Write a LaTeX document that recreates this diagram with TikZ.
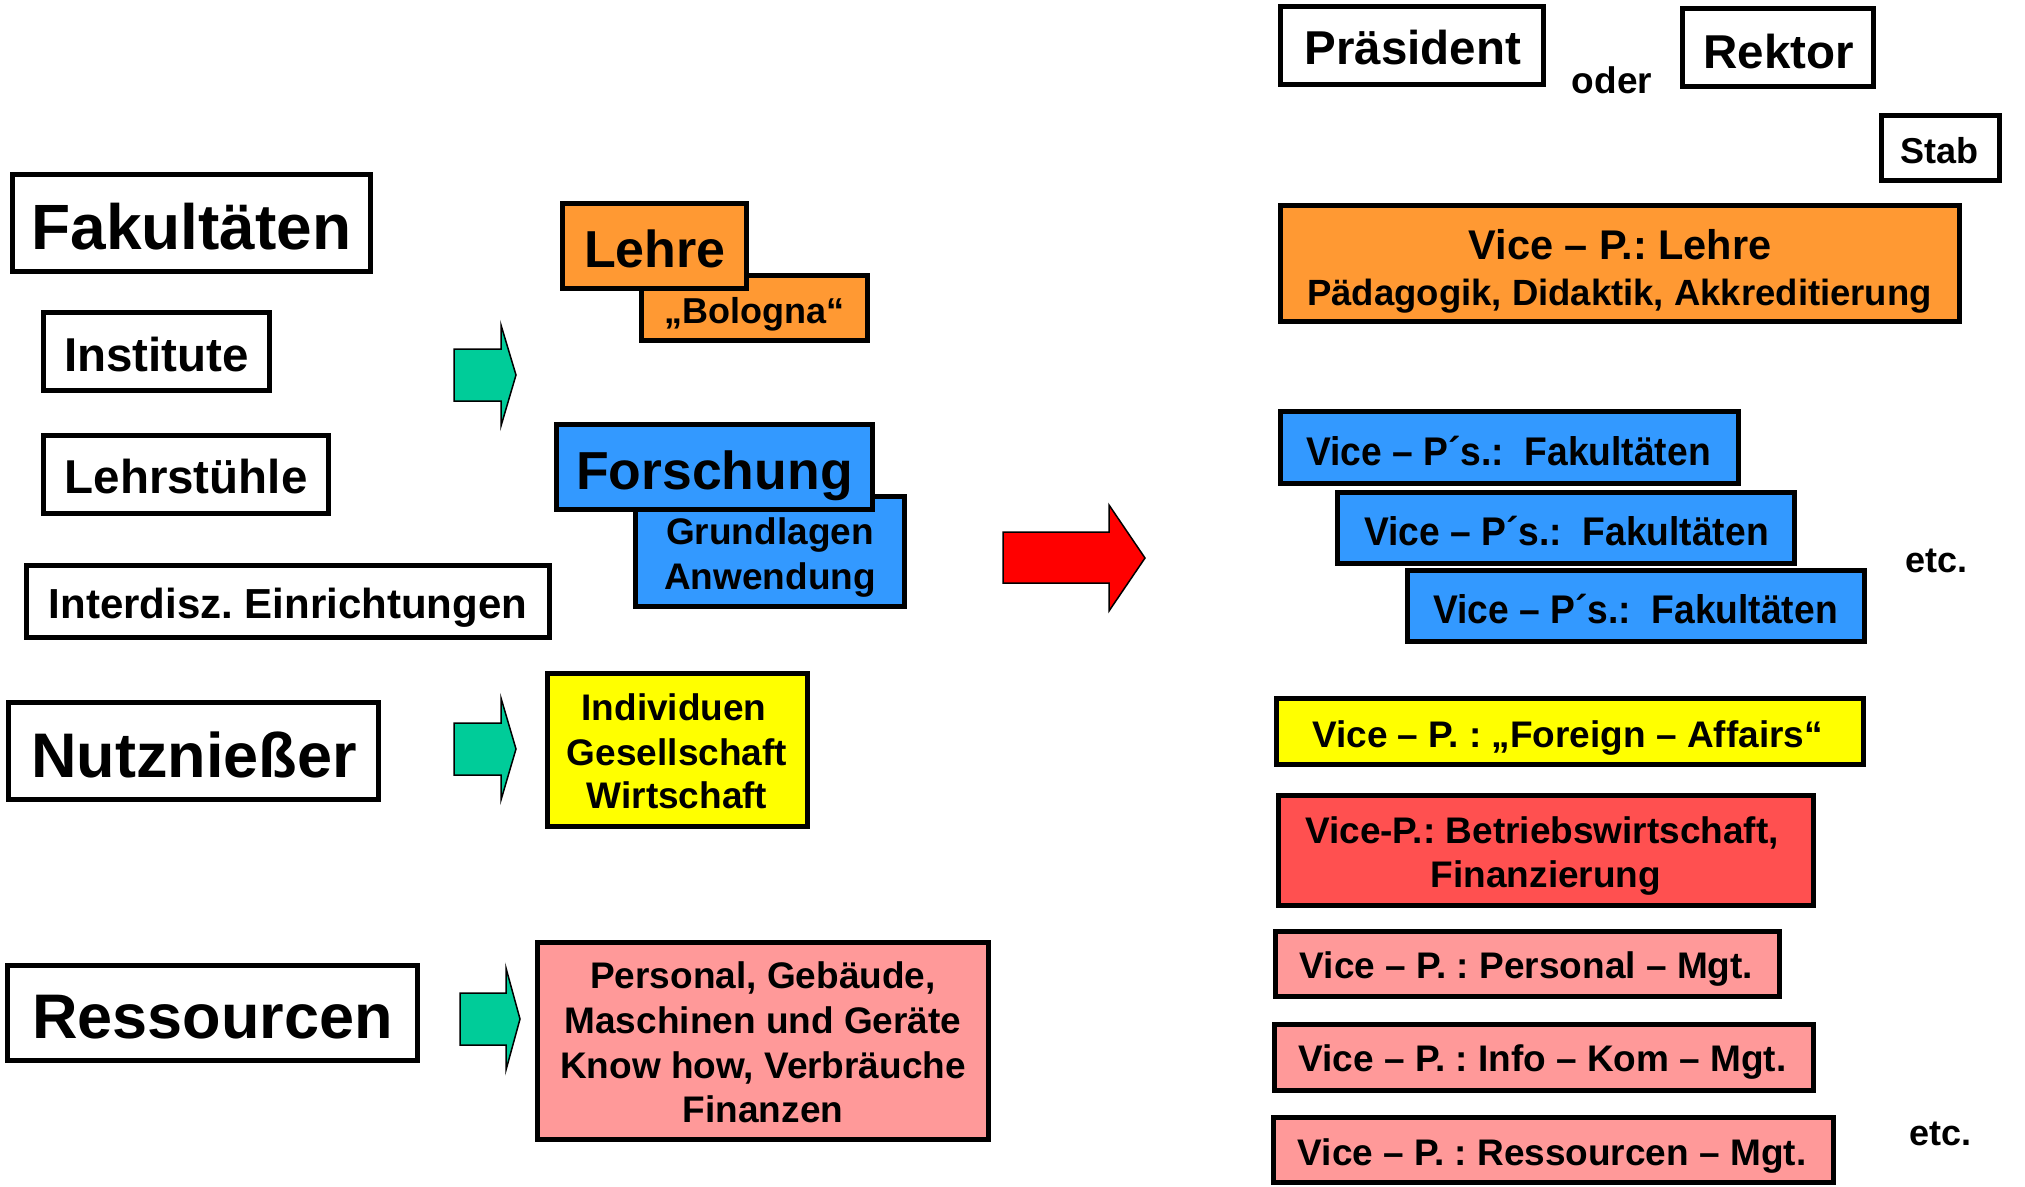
\documentclass[tikz,border=0pt]{standalone}
\usepackage{fontspec}
\setmainfont{Liberation Sans}
\usepackage{graphicx}
\frenchspacing
\newcommand\fsz[1]{\fontsize{#1}{#1}\selectfont}
\definecolor{cOrange}{HTML}{FF9933}
\definecolor{cBlue}{HTML}{3399FF}
\definecolor{cYellow}{HTML}{FFFF00}
\definecolor{cRedbox}{HTML}{FF5050}
\definecolor{cPink}{HTML}{FF9999}
\definecolor{cGreen}{HTML}{00CC99}
\definecolor{cRed}{HTML}{FF0000}
\tikzset{
  box/.style={draw=black, line width=5pt, inner sep=0pt, outer sep=0pt},
  lbl/.style={anchor=base, inner sep=0pt, outer sep=0pt, font=\bfseries},
  blockarrow/.style={draw=black, line width=1.5pt, line join=miter},
}
\begin{document}
\begin{tikzpicture}[x=1pt,y=-1pt]
\useasboundingbox (0,0) rectangle (2025,1186);

% ---------- left column ----------
\node[box, fill=white, minimum width=358, minimum height=97] (fak) at (191.5,223) {};
\node[lbl, font=\bfseries\fsz{64}] (tfak) at (191.5,249) {Fakultäten};
\node[box, fill=white, minimum width=226, minimum height=78] (inst) at (156.5,351.5) {};
\node[lbl, font=\bfseries\fsz{47.5}] (tinst) at (156.5,371) {Institute};
\node[box, fill=white, minimum width=285, minimum height=78] (lehrst) at (186,474.5) {};
\node[lbl, font=\bfseries\fsz{47.5}] (tlehrst) at (186,493) {Lehrstühle};
\node[box, fill=white, minimum width=523, minimum height=72] (interd) at (288,601.5) {};
\node[lbl, font=\bfseries\fsz{42}] (tinterd) at (288,618) {Interdisz. Einrichtungen};
\node[box, fill=white, minimum width=370, minimum height=97] (nutz) at (193.5,751) {};
\node[lbl, font=\bfseries\fsz{63}] (tnutz) at (194,777) {Nutznießer};
\node[box, fill=white, minimum width=410, minimum height=95] (ress) at (212.5,1013) {};
\node[lbl, font=\bfseries\fsz{63}] (tress) at (212.5,1038) {Ressourcen};

% ---------- green arrows ----------
\draw[blockarrow, fill=cGreen] (454,349) -- (501,349) -- (501,325) -- (516,375) -- (501,426) -- (501,401) -- (454,401) -- cycle;
\draw[blockarrow, fill=cGreen] (454,723) -- (501,723) -- (501,698) -- (516,749) -- (501,800) -- (501,775) -- (454,775) -- cycle;
\draw[blockarrow, fill=cGreen] (460,993) -- (506,993) -- (506,968) -- (520,1019) -- (506,1070) -- (506,1045) -- (460,1045) -- cycle;

% ---------- middle column ----------
\node[box, fill=cOrange, minimum width=226, minimum height=65] (bologna) at (754.5,308) {};
\node[lbl, font=\bfseries\fsz{36}] (tbologna) at (754.5,323) {„Bologna“};
\node[box, fill=cOrange, minimum width=184, minimum height=85] (lehre) at (654.5,246) {};
\node[lbl, font=\bfseries\fsz{52}] (tlehre) at (655,267) {Lehre};

\node[box, fill=cBlue, minimum width=269, minimum height=110] (grund) at (770,551.5) {};
\node[lbl, font=\bfseries\fsz{37}] (tgrund1) at (770,544) {Grundlagen};
\node[lbl, font=\bfseries\fsz{37}] (tgrund2) at (770,589) {Anwendung};
\node[box, fill=cBlue, minimum width=316, minimum height=85] (forsch) at (714.5,467) {};
\node[lbl, font=\bfseries\fsz{53.5}] (tforsch) at (714.5,489) {Forschung};

\node[box, fill=cYellow, minimum width=260, minimum height=153] (indiv) at (677.5,750) {};
\node[lbl, font=\bfseries\fsz{37}] (tindiv1) at (674,720) {Individuen};
\node[lbl, font=\bfseries\fsz{37}] (tindiv2) at (677,765) {Gesellschaft};
\node[lbl, font=\bfseries\fsz{37}] (tindiv3) at (677,808) {Wirtschaft};

\node[box, fill=cPink, minimum width=451, minimum height=197] (resbox) at (763,1041) {};
\node[lbl, font=\bfseries\fsz{37}] (tres1) at (763,988) {Personal, Gebäude,};
\node[lbl, font=\bfseries\fsz{37}] (tres2) at (763,1033) {Maschinen und Geräte};
\node[lbl, font=\bfseries\fsz{37}] (tres3) at (763,1078) {Know how, Verbräuche};
\node[lbl, font=\bfseries\fsz{37}] (tres4) at (763,1122) {Finanzen};

% ---------- red arrow ----------
\draw[blockarrow, fill=cRed] (1003,532) -- (1109,532) -- (1109,505) -- (1145,558) -- (1109,611) -- (1109,583) -- (1003,583) -- cycle;

% ---------- right column ----------
\node[box, fill=white, minimum width=263, minimum height=78] (praes) at (1412,45.5) {};
\node[lbl, font=\bfseries\fsz{47.5}] (tpraes) at (1413,64) {Präsident};
\node[lbl, font=\bfseries\fsz{37}] (oder) at (1612,93) {oder};
\node[box, fill=white, minimum width=191, minimum height=78] (rektor) at (1778,47.5) {};
\node[lbl, font=\bfseries\fsz{47.5}] (trektor) at (1778.5,68) {Rektor};
\node[box, fill=white, minimum width=118, minimum height=65] (stab) at (1940.5,148) {};
\node[lbl, font=\bfseries\fsz{36}] (tstab) at (1939.5,163) {Stab};

\node[box, fill=cOrange, minimum width=679, minimum height=116] (vpl) at (1620,263.5) {};
\node[lbl, font=\bfseries\fsz{41.5}] (tvpl1) at (1620,259) {Vice – P.: Lehre};
\node[lbl, font=\bfseries\fsz{36.5}] (tvpl2) at (1619.5,305) {Pädagogik, Didaktik, Akkreditierung};

\node[box, fill=cBlue, minimum width=458, minimum height=72] (vpf1) at (1509.5,447.5) {};
\node[lbl, font=\bfseries\fsz{40}] (tvpf1) at (1508.5,465) {\scalebox{0.93}[1]{Vice – P´s.:\ \ Fakultäten}};
\node[box, fill=cBlue, minimum width=457, minimum height=71] (vpf2) at (1566,528) {};
\node[lbl, font=\bfseries\fsz{40}] (tvpf2) at (1566.5,545) {\scalebox{0.93}[1]{Vice – P´s.:\ \ Fakultäten}};
\node[box, fill=cBlue, minimum width=457, minimum height=71] (vpf3) at (1636,606) {};
\node[lbl, font=\bfseries\fsz{40}] (tvpf3) at (1635.5,623) {\scalebox{0.93}[1]{Vice – P´s.:\ \ Fakultäten}};
\node[lbl, font=\bfseries\fsz{36}] (etc1) at (1936,572) {etc.};

\node[box, fill=cYellow, minimum width=587, minimum height=66] (vpfa) at (1570,731.5) {};
\node[lbl, font=\bfseries\fsz{37}] (tvpfa) at (1567.5,747) {Vice – P. : „Foreign – Affairs“};

\node[box, fill=cRedbox, minimum width=535, minimum height=110] (vpbw) at (1546,850.5) {};
\node[lbl, font=\bfseries\fsz{37}] (tvpbw1) at (1542,843) {Vice-P.: Betriebswirtschaft,};
\node[lbl, font=\bfseries\fsz{37}] (tvpbw2) at (1546,887) {Finanzierung};

\node[box, fill=cPink, minimum width=504, minimum height=65] (vpp) at (1527.5,964) {};
\node[lbl, font=\bfseries\fsz{37}] (tvpp) at (1526.5,978) {Vice – P. : Personal – Mgt.};
\node[box, fill=cPink, minimum width=539, minimum height=66] (vpik) at (1544,1057.5) {};
\node[lbl, font=\bfseries\fsz{37}] (tvpik) at (1542.5,1071) {Vice – P. : Info – Kom – Mgt.};
\node[box, fill=cPink, minimum width=560, minimum height=65] (vpr) at (1553.5,1150) {};
\node[lbl, font=\bfseries\fsz{37}] (tvpr) at (1552,1165) {Vice – P. : Ressourcen – Mgt.};
\node[lbl, font=\bfseries\fsz{36}] (etc2) at (1940,1145) {etc.};
\end{tikzpicture}
\end{document}
